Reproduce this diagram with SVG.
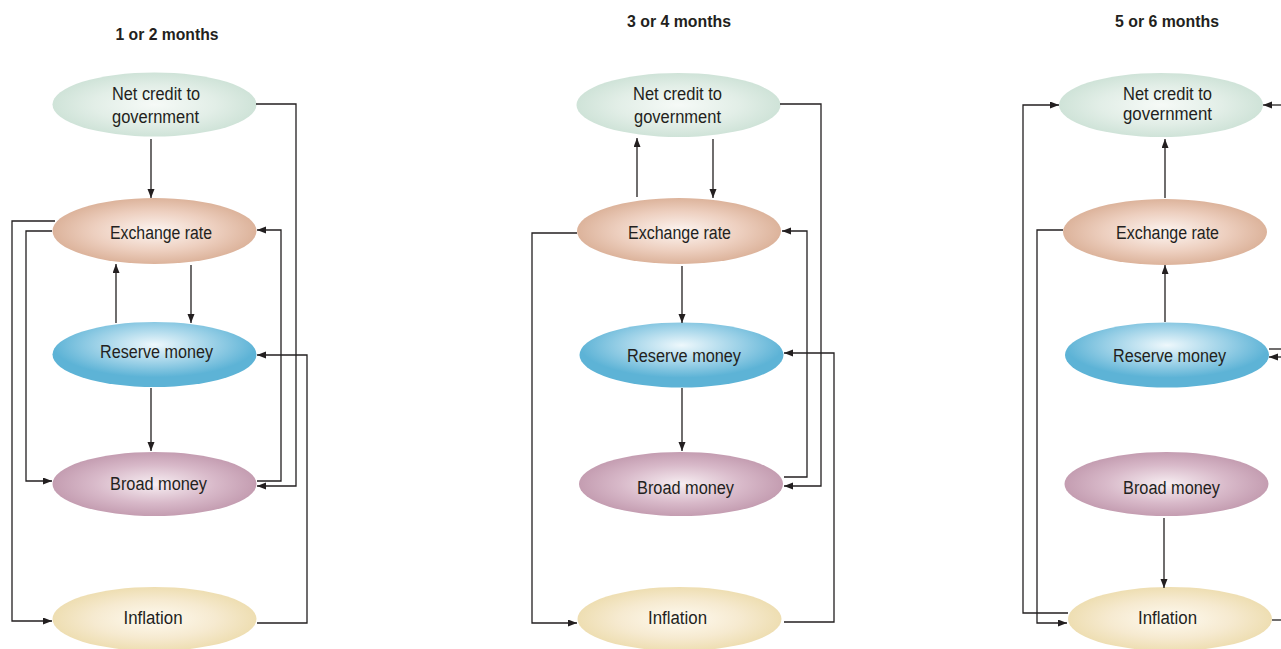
<svg xmlns="http://www.w3.org/2000/svg" width="1281" height="649" viewBox="0 0 1281 649">
<style>
.t{font-family:"Liberation Sans Narrow","Liberation Sans",Arial,sans-serif;font-size:18px;fill:#231f20;text-anchor:middle}
.h{font-family:"Liberation Sans Narrow","Liberation Sans",Arial,sans-serif;font-size:17px;font-weight:bold;fill:#231f20;text-anchor:middle}
.c{fill:none;stroke:#231f20;stroke-width:1.3}
.a{marker-end:url(#ah)}
</style>
<defs>
<marker id="ah" markerUnits="userSpaceOnUse" markerWidth="10" markerHeight="8" refX="9" refY="3.5" orient="auto">
<path d="M0,0 L9,3.5 L0,7 z" fill="#231f20"/>
</marker>
<radialGradient id="gN" cx="0.5" cy="0.5" r="0.5"><stop offset="0" stop-color="#f6faf7"/><stop offset="0.6" stop-color="#e2eee7"/><stop offset="1" stop-color="#cfe3d8"/></radialGradient>
<radialGradient id="gE" cx="0.5" cy="0.5" r="0.5"><stop offset="0" stop-color="#fdf5f1"/><stop offset="0.6" stop-color="#edcfbf"/><stop offset="1" stop-color="#dcb39b"/></radialGradient>
<radialGradient id="gR" cx="0.5" cy="0.35" r="0.5"><stop offset="0" stop-color="#eef8fc"/><stop offset="0.6" stop-color="#98cfe6"/><stop offset="1" stop-color="#5db3d6"/></radialGradient>
<radialGradient id="gB" cx="0.5" cy="0.5" r="0.5"><stop offset="0" stop-color="#f7eef2"/><stop offset="0.6" stop-color="#d8b9c9"/><stop offset="1" stop-color="#c49db1"/></radialGradient>
<radialGradient id="gI" cx="0.5" cy="0.5" r="0.5"><stop offset="0" stop-color="#fefaf0"/><stop offset="0.6" stop-color="#f6ead0"/><stop offset="1" stop-color="#eedeb2"/></radialGradient>
</defs>

<g id="titles">
<text class="h" x="167" y="40" textLength="103" lengthAdjust="spacingAndGlyphs">1 or 2 months</text>
<text class="h" x="679" y="27" textLength="104" lengthAdjust="spacingAndGlyphs">3 or 4 months</text>
<text class="h" x="1167" y="27" textLength="104" lengthAdjust="spacingAndGlyphs">5 or 6 months</text>
</g>

<g id="p1-net-credit"><ellipse cx="154.5" cy="104.5" rx="102" ry="32" fill="url(#gN)"/><text class="t" x="156" y="100" textLength="88" lengthAdjust="spacingAndGlyphs">Net credit to</text><text class="t" x="155.5" y="123" textLength="87" lengthAdjust="spacingAndGlyphs">government</text></g>
<g id="p1-exchange-rate"><ellipse cx="154.5" cy="231" rx="102" ry="33" fill="url(#gE)"/><text class="t" x="161" y="239" textLength="102" lengthAdjust="spacingAndGlyphs">Exchange rate</text></g>
<g id="p1-reserve-money"><ellipse cx="154.5" cy="354.5" rx="102" ry="32.5" fill="url(#gR)"/><text class="t" x="156.5" y="358" textLength="113" lengthAdjust="spacingAndGlyphs">Reserve money</text></g>
<g id="p1-broad-money"><ellipse cx="154.5" cy="484" rx="102" ry="32" fill="url(#gB)"/><text class="t" x="158.5" y="490" textLength="97" lengthAdjust="spacingAndGlyphs">Broad money</text></g>
<g id="p1-inflation"><ellipse cx="154.5" cy="619" rx="102" ry="32" fill="url(#gI)"/><text class="t" x="153" y="624" textLength="59" lengthAdjust="spacingAndGlyphs">Inflation</text></g>

<g id="p2-net-credit"><ellipse cx="678.5" cy="105" rx="102" ry="32" fill="url(#gN)"/><text class="t" x="677.5" y="100" textLength="89" lengthAdjust="spacingAndGlyphs">Net credit to</text><text class="t" x="677.5" y="123" textLength="87" lengthAdjust="spacingAndGlyphs">government</text></g>
<g id="p2-exchange-rate"><ellipse cx="679" cy="231" rx="102" ry="33" fill="url(#gE)"/><text class="t" x="679.5" y="239" textLength="103" lengthAdjust="spacingAndGlyphs">Exchange rate</text></g>
<g id="p2-reserve-money"><ellipse cx="681.5" cy="355" rx="102" ry="32.5" fill="url(#gR)"/><text class="t" x="684" y="362" textLength="114" lengthAdjust="spacingAndGlyphs">Reserve money</text></g>
<g id="p2-broad-money"><ellipse cx="681" cy="484" rx="102" ry="32" fill="url(#gB)"/><text class="t" x="685.5" y="494" textLength="97" lengthAdjust="spacingAndGlyphs">Broad money</text></g>
<g id="p2-inflation"><ellipse cx="679.5" cy="619" rx="102" ry="32" fill="url(#gI)"/><text class="t" x="677.5" y="624" textLength="59" lengthAdjust="spacingAndGlyphs">Inflation</text></g>

<g id="p3-net-credit"><ellipse cx="1161" cy="105" rx="102" ry="32" fill="url(#gN)"/><text class="t" x="1167.5" y="100" textLength="89" lengthAdjust="spacingAndGlyphs">Net credit to</text><text class="t" x="1167.5" y="120" textLength="89" lengthAdjust="spacingAndGlyphs">government</text></g>
<g id="p3-exchange-rate"><ellipse cx="1165" cy="232" rx="102" ry="33" fill="url(#gE)"/><text class="t" x="1167.5" y="239" textLength="103" lengthAdjust="spacingAndGlyphs">Exchange rate</text></g>
<g id="p3-reserve-money"><ellipse cx="1167" cy="355" rx="102" ry="32.5" fill="url(#gR)"/><text class="t" x="1169.5" y="362" textLength="113" lengthAdjust="spacingAndGlyphs">Reserve money</text></g>
<g id="p3-broad-money"><ellipse cx="1166.5" cy="484" rx="102" ry="32" fill="url(#gB)"/><text class="t" x="1171.5" y="494" textLength="97" lengthAdjust="spacingAndGlyphs">Broad money</text></g>
<g id="p3-inflation"><ellipse cx="1170" cy="619" rx="102" ry="32" fill="url(#gI)"/><text class="t" x="1167.5" y="624" textLength="59" lengthAdjust="spacingAndGlyphs">Inflation</text></g>

<g id="connectors">
<!-- panel 1 -->
<path class="c a" d="M151,139 V198"/>
<path class="c a" d="M256,104 H296 V486 H257"/>
<path class="c a" d="M191,265 V323"/>
<path class="c a" d="M116,323 V264"/>
<path class="c a" d="M257,481 H281 V230 H257"/>
<path class="c a" d="M55,221 H12 V621 H52"/>
<path class="c a" d="M52,231 H26 V481 H52"/>
<path class="c a" d="M257,623 H307 V355 H257"/>
<path class="c a" d="M151,388 V451"/>
<!-- panel 2 -->
<path class="c a" d="M637,197 V138"/>
<path class="c a" d="M713,139 V198"/>
<path class="c a" d="M780,104 H821 V486 H784"/>
<path class="c a" d="M784,477 H807 V231 H782"/>
<path class="c a" d="M682,266 V323"/>
<path class="c a" d="M577,233 H532 V623 H577"/>
<path class="c a" d="M784,622 H834 V353 H784"/>
<path class="c a" d="M682,388 V451"/>
<!-- panel 3 -->
<path class="c a" d="M1165,198 V139"/>
<path class="c a" d="M1165,322 V265"/>
<path class="c a" d="M1164,518 V588"/>
<path class="c a" d="M1068,613 H1023 V105 H1059"/>
<path class="c a" d="M1063,230 H1037 V623 H1067"/>
<path class="c a" d="M1281,105 H1263"/>
<path class="c" d="M1269,349 H1281"/>
<path class="c a" d="M1281,357 H1269"/>
<path class="c" d="M1272,620 H1281"/>
</g>
</svg>
